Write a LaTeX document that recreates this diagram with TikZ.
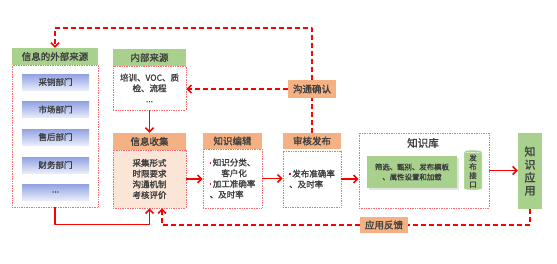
\documentclass[tikz,border=0pt]{standalone}
\usepackage{fontspec}
\setmainfont{Noto Sans CJK SC}[AutoFakeBold=1.6]
\usetikzlibrary{arrows.meta,shapes.geometric,shadows}
\definecolor{hdrgreen}{RGB}{169,209,142}
\definecolor{hdrorange}{RGB}{244,177,131}
\definecolor{peach}{RGB}{251,229,214}
\definecolor{txtgray}{RGB}{64,64,64}
\definecolor{dotred}{RGB}{255,105,110}
\definecolor{bulpink}{RGB}{230,0,120}
\definecolor{bluetop}{RGB}{145,162,226}
\definecolor{bluebot}{RGB}{232,236,250}
\newcommand{\bul}{\textcolor{bulpink}{\rule[2pt]{1.8pt}{1.8pt}}\,}
\tikzset{
  hdr/.style={rectangle, inner sep=0pt, text=txtgray, font=\fontsize{9.5}{11}\selectfont\bfseries},
  ghdr/.style={hdr, fill=hdrgreen},
  ohdr/.style={hdr, fill=hdrorange},
  dotbox/.style={rectangle, draw=dotred, densely dotted, line width=0.7pt, inner sep=0pt,
    text=txtgray, font=\fontsize{8.5}{10.7}\selectfont\bfseries, align=center},
  dept/.style={rectangle, inner sep=0pt, minimum width=67pt, minimum height=16pt,
    top color=bluetop, bottom color=bluebot, text=txtgray, font=\fontsize{8.5}{10}\selectfont\bfseries},
  flow/.style={draw=red, line width=1.6pt, -{Straight Barb[length=4pt,width=8pt]}},
  fback/.style={draw=red, line width=1.6pt, dash pattern=on 5pt off 3pt}
}
\begin{document}
\begin{tikzpicture}[x=1pt, y=-1pt, line join=round, >={Straight Barb[length=4pt,width=8pt]}]
  \useasboundingbox (0,0) rectangle (557,263);
  % external sources
  \node[ghdr, minimum width=86pt, minimum height=17pt] (extH) at (55,56.5) {信息的外部来源};
  \node[dotbox, minimum width=86pt, minimum height=142pt] (extB) at (55,136) {};
  \node[dept] (sales) at (55.5,82) {采销部门};
  \node[dept] (market) at (55.5,109.5) {市场部门};
  \node[dept] (after) at (55.5,137) {售后部门};
  \node[dept] (fin) at (55.5,165) {财务部门};
  \node[dept] (more) at (55.5,192) {...};
  % internal sources and collection
  \node[ghdr, minimum width=73pt, minimum height=17pt] (intH) at (149.5,57.5) {内部来源};
  \node[dotbox, minimum width=73pt, minimum height=44pt] (intB) at (149.5,88) {培训、VOC、质\\检、流程\\...};
  \node[ohdr, minimum width=73pt, minimum height=17pt] (colH) at (149.5,141.5) {信息收集};
  \node[dotbox, fill=peach, minimum width=73pt, minimum height=58pt] (colB) at (149.5,179)
    {采集形式\\时限要求\\沟通机制\\考核评价};
  % editing and review
  \node[ohdr, minimum width=59pt, minimum height=16pt] (edH) at (232.5,141) {知识编辑};
  \node[dotbox, minimum width=59pt, minimum height=59pt, align=left] (edB) at (232.5,178.5)
    {\bul 知识分类、\\\phantom{\bul 知}客户化\\\bul 加工准确率\\、及时率};
  \node[ohdr, minimum width=58pt, minimum height=16pt] (revH) at (312,141) {审核发布};
  \node[dotbox, minimum width=58pt, minimum height=56pt, align=left] (revB) at (312,179)
    {\bul 发布准确率\\、及时率};
  \node[ohdr, minimum width=48pt, minimum height=18pt] (conf) at (312,89) {沟通确认};
  % knowledge base
  \node[dotbox, minimum width=130pt, minimum height=75pt] (kb) at (424,170.5) {};
  \node[hdr, font=\fontsize{10.5}{12}\selectfont\bfseries] (kbT) at (423,143) {知识库};
  \node[rectangle, fill=hdrgreen, drop shadow={shadow xshift=2pt, shadow yshift=-2pt, fill=black!22},
    minimum width=90pt, minimum height=32pt, inner sep=0pt, align=center, text=txtgray,
    font=\fontsize{7.4}{10}\selectfont\bfseries] (kbF) at (412,172) {筛选、甄别、发布模板\\、属性设置和加载};
  \node[cylinder, shape border rotate=90, aspect=0.3, fill=hdrgreen, draw=white, minimum width=18pt,
    minimum height=40pt, inner sep=0.5pt, align=center, text=txtgray,
    font=\fontsize{7.5}{8.8}\selectfont\bfseries] (kbI) at (473,171) {发\\布\\接\\口};
  \node[rectangle, fill=hdrgreen, minimum width=24pt, minimum height=76pt, inner sep=0pt, align=center,
    text=txtgray, font=\fontsize{11}{13}\selectfont\bfseries] (app) at (530,171) {知\\识\\应\\用};
  \node[ohdr, minimum width=48pt, minimum height=16pt] (fb) at (384,225) {应用反馈};
  % main flow
  \draw[flow] (intB) -- (colH);
  \draw[flow] (colB.east) -- (colB.east -| edB.west);
  \draw[flow] (edB.east) -- (edB.east -| revB.west);
  \draw[flow] (revB.east) -- (revB.east -| kb.west);
  \draw[flow] (kb.east) -- (kb.east -| app.west);
  \draw[flow] (extB.south) -- ++(0,17) -| (colB.south);
  % feedback loops
  \draw[fback] (revH.north) -- (conf.south);
  \draw[fback, ->] (conf.north) -- ++(0,-52) -| (extH.north);
  \draw[fback, ->] (conf.west) -- (conf.west -| intB.east);
  \draw[fback] (app.south) |- (fb.east);
  \draw[fback, ->] (fb.west) -| ([xshift=12.5pt]colB.south);
\end{tikzpicture}
\end{document}
